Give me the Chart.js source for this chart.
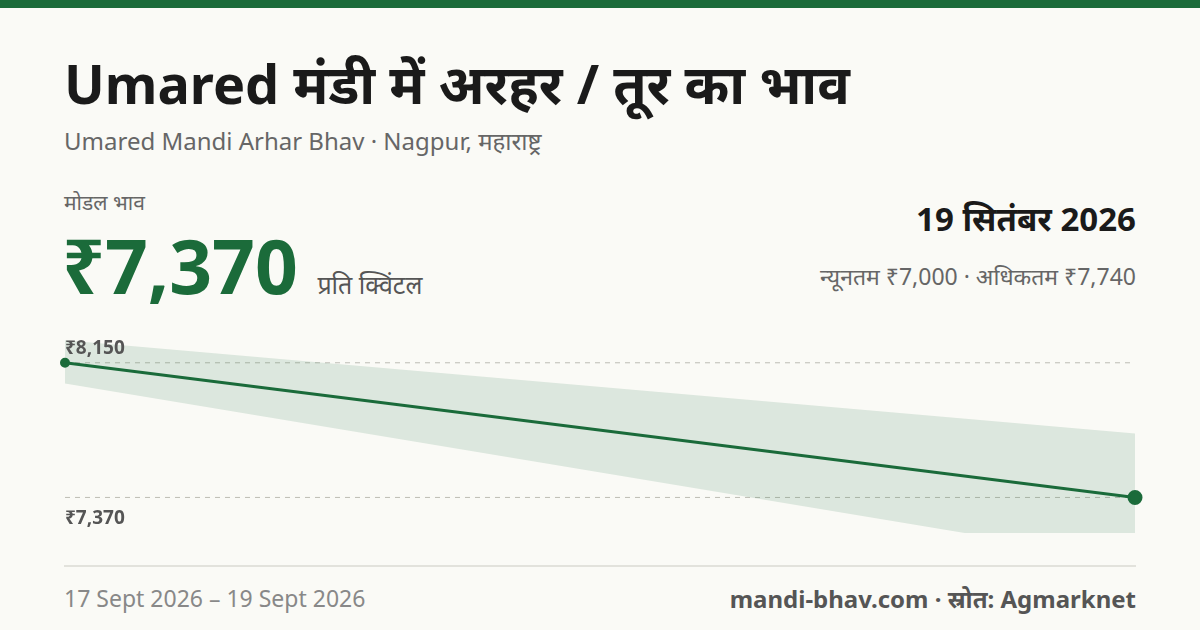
<!DOCTYPE html>
<html><head><meta charset="utf-8">
<script src="https://cdn.jsdelivr.net/npm/chart.js@4/dist/chart.umd.min.js"></script>
<style>
body{margin:0;width:1200px;height:630px;background:#fafaf6;font-family:"Noto Sans",sans-serif;position:relative;overflow:hidden}
.bar{position:absolute;left:0;top:0;width:1200px;height:8px;background:#1b6b3a}
.t{position:absolute;white-space:nowrap}
#wrap{position:absolute;left:56px;top:322px;width:1088px;height:220px}
.base{position:absolute;left:64px;top:565px;width:1072px;height:2px;background:#e2e2dc}
</style></head><body>
<div class="bar"></div>
<div class="t" style="left:64px;top:48px;font-size:54px;font-weight:700;color:#1a1a1a;line-height:1.3">Umared मंडी में अरहर / तूर का भाव</div>
<div class="t" style="left:64px;top:124px;font-size:24px;color:#666">Umared Mandi Arhar Bhav · Nagpur, महाराष्ट्र</div>
<div class="t" style="left:64px;top:188px;font-size:21px;color:#666">मोडल भाव</div>
<div class="t" style="left:62px;top:214px;font-size:75px;font-weight:700;color:#1b6b3a">₹7,370 <span style="font-size:25px;font-weight:400;color:#555">प्रति क्विंटल</span></div>
<div class="t" style="right:64px;top:196px;font-size:33px;font-weight:700;color:#1a1a1a">19 सितंबर 2026</div>
<div class="t" style="right:64px;top:260px;font-size:23px;color:#666">न्यूनतम ₹7,000 · अधिकतम ₹7,740</div>
<div id="wrap"><canvas id="c"></canvas></div>
<div class="base"></div>
<div class="t" style="left:64px;top:582px;font-size:23px;color:#888">17 Sept 2026 – 19 Sept 2026</div>
<div class="t" style="right:64px;top:582px;font-size:24px;font-weight:700;color:#555">mandi-bhav.com · स्रोत: Agmarknet</div>
<script>
const days = [0, 1];
const modal = [8150, 7370];
const minPrice = [8030, 7000];
const maxPrice = [8280, 7740];
const refLines = [8150, 7370];
const refLabels = ['₹8,150', '₹7,370'];

const pts = a => a.map((v, i) => ({x: days[i], y: v}));

const guides = {
  id: 'guides',
  beforeDatasetsDraw(chart) {
    const {ctx, chartArea: a, scales: {y}} = chart;
    ctx.save();
    ctx.strokeStyle = '#bdbdb5'; ctx.lineWidth = 1; ctx.setLineDash([5, 5]);
    refLines.forEach(v => {
      const py = y.getPixelForValue(v);
      ctx.beginPath(); ctx.moveTo(a.left, py); ctx.lineTo(a.right, py); ctx.stroke();
    });
    ctx.restore();
  },
  afterDatasetsDraw(chart) {
    const {ctx, chartArea: a, scales: {y}} = chart;
    ctx.save();
    ctx.font = '700 19px "Noto Sans"'; ctx.fillStyle = '#555';
    ctx.fillText(refLabels[0], a.left, y.getPixelForValue(refLines[0]) - 9);
    ctx.textBaseline = 'top';
    ctx.fillText(refLabels[1], a.left, y.getPixelForValue(refLines[1]) + 12);
    ctx.restore();
  }
};

new Chart(document.getElementById('c'), {
  type: 'line',
  data: {datasets: [
    {data: pts(maxPrice), borderWidth: 0, pointRadius: 0, fill: '+1', backgroundColor: 'rgba(27,107,58,0.13)'},
    {data: pts(minPrice), borderWidth: 0, pointRadius: 0, fill: false},
    {data: pts(modal), borderColor: '#1b6b3a', borderWidth: 3, backgroundColor: '#1b6b3a',
     pointRadius: [3.5, 6], pointHoverRadius: 6, clip: false}
  ]},
  options: {
    responsive: true, maintainAspectRatio: false, animation: false,
    layout: {padding: {left: 8, right: 8, top: 8, bottom: 0}},
    plugins: {legend: {display: false}, tooltip: {enabled: false}},
    scales: {
      x: {type: 'linear', min: 0, max: 1, display: false},
      y: {min: 7164, max: 8334, display: false}
    }
  },
  plugins: [guides]
});
</script>
</body></html>
